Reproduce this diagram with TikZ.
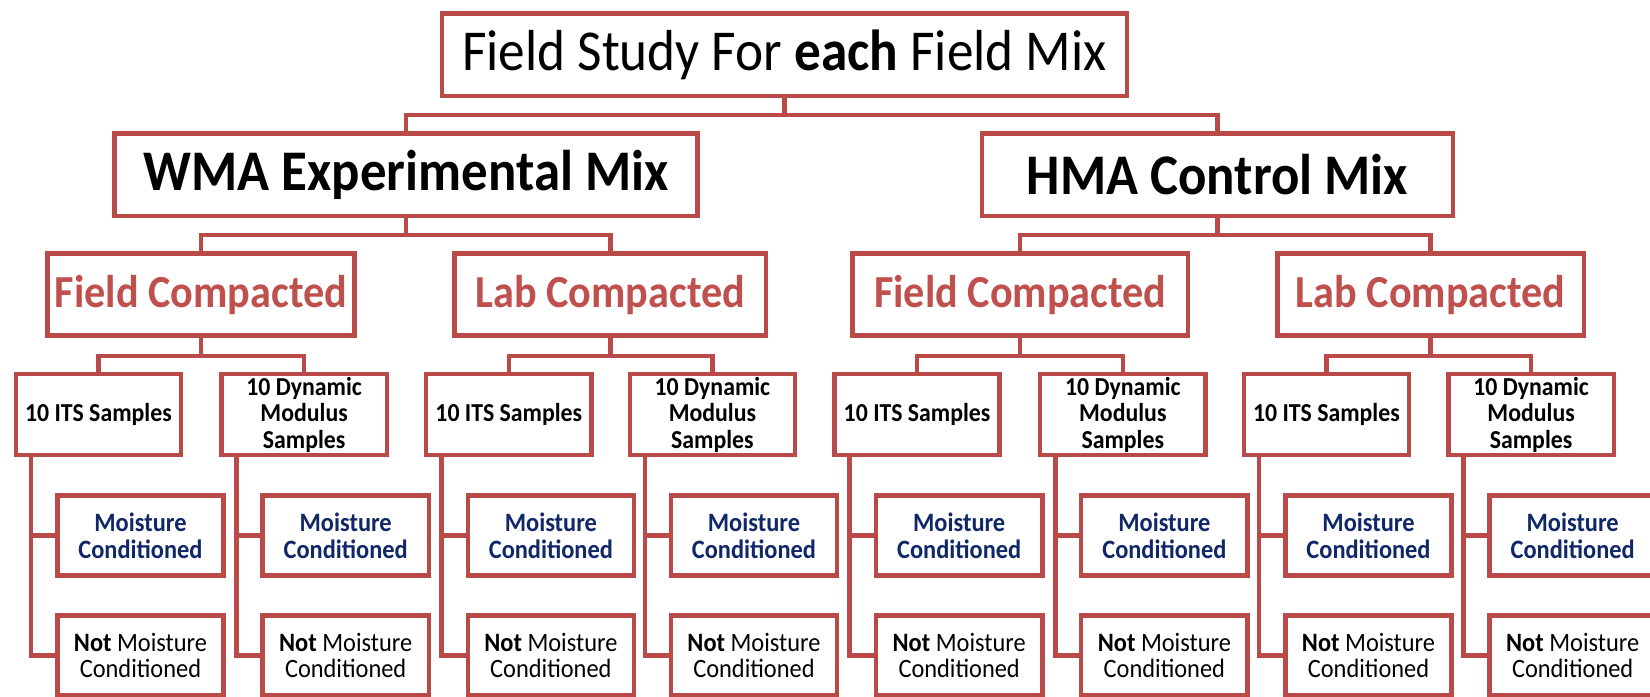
\documentclass[tikz,border=0pt]{standalone}
\usepackage{fontspec}
\setmainfont{Carlito}[FakeStretch=0.92]
\definecolor{boxred}{RGB}{185,74,72}
\definecolor{txtred}{RGB}{192,80,77}
\definecolor{txtblue}{RGB}{16,40,104}
\begin{document}
\begin{tikzpicture}[x=0.5pt,y=-0.5pt,
  box/.style={draw=boxred,line width=2.1pt,fill=white,rectangle,align=center,inner sep=0pt,minimum height=38.5pt},
  conn/.style={draw=boxred,line width=2.1pt},
  small/.style={box,minimum width=78.5pt,minimum height=38.5pt,font=\fontsize{12.3}{12.6}\selectfont\bfseries},
  leaf/.style={box,minimum width=79pt,minimum height=38pt,font=\fontsize{12.6}{12.6}\selectfont},
  wet/.style={leaf,text=txtblue,font=\fontsize{12.6}{12.6}\selectfont\bfseries},
  midbox/.style={box,minimum height=39pt,font=\fontsize{21.8}{24}\selectfont\bfseries,text=txtred},
  bigbox/.style={box,minimum height=39pt,font=\fontsize{27.3}{30}\selectfont\bfseries}]
\useasboundingbox (0,0) rectangle (1568,662);
% level 1
\node[box,minimum width=325.5pt,minimum height=39pt,font=\fontsize{27.5}{30}\selectfont] (top) at (745.5,52) {Field Study For \textbf{each} Field Mix};
% level 2
\node[bigbox,minimum width=277pt] (wma) at (386,166) {WMA Experimental Mix};
\node[bigbox,minimum width=224pt] (hma) at (1157,166) {HMA Control Mix};
% level 3
\node[midbox,minimum width=146pt] (fa) at (191,280) {Field Compacted};
\node[midbox,minimum width=148pt] (la) at (580,280) {Lab Compacted};
\node[midbox,minimum width=159.5pt] (fb) at (969.5,280) {Field Compacted};
\node[midbox,minimum width=145.5pt] (lb) at (1359.5,280) {Lab Compacted};
% connectors level 1-3
\draw[conn] (top.south) -- ++(0,16) coordinate (j0);
\draw[conn] (j0) -| (wma.north);
\draw[conn] (j0) -| (hma.north);
\draw[conn] (wma.south) -- ++(0,16) coordinate (ja);
\draw[conn] (ja) -| (fa.north);
\draw[conn] (ja) -| (la.north);
\draw[conn] (hma.south) -- ++(0,16) coordinate (jb);
\draw[conn] (jb) -| (fb.north);
\draw[conn] (jb) -| (lb.north);
% levels 4-5
\foreach \k/\ia/\da/\p in {1/13/208/fa, 2/403/596/la, 3/791/986/fb, 4/1180/1374/lb}{
  \node[small] (its\k) at (\ia+80.5,394) {10 ITS Samples};
  \node[small] (dm\k) at (\da+81,394) {10 Dynamic\\Modulus\\Samples};
  \draw[conn] (\p.south) -- ++(0,17) coordinate (jj\k);
  \draw[conn] (jj\k) -| (its\k.north);
  \draw[conn] (jj\k) -| (dm\k.north);
  \node[wet] (mci\k) at (\ia+120.5,509) {Moisture\\Conditioned};
  \node[leaf] (nmi\k) at (\ia+120.5,623) {\textbf{Not} Moisture\\Conditioned};
  \node[wet] (mcd\k) at (\da+120.5,509) {Moisture\\Conditioned};
  \node[leaf] (nmd\k) at (\da+120.5,623) {\textbf{Not} Moisture\\Conditioned};
  \coordinate (si\k) at ([xshift=8.25pt]its\k.south west);
  \coordinate (sd\k) at ([xshift=8.25pt]dm\k.south west);
  \draw[conn] (si\k) |- (mci\k.west);
  \draw[conn] (si\k) |- (nmi\k.west);
  \draw[conn] (sd\k) |- (mcd\k.west);
  \draw[conn] (sd\k) |- (nmd\k.west);
}
\end{tikzpicture}
\end{document}
